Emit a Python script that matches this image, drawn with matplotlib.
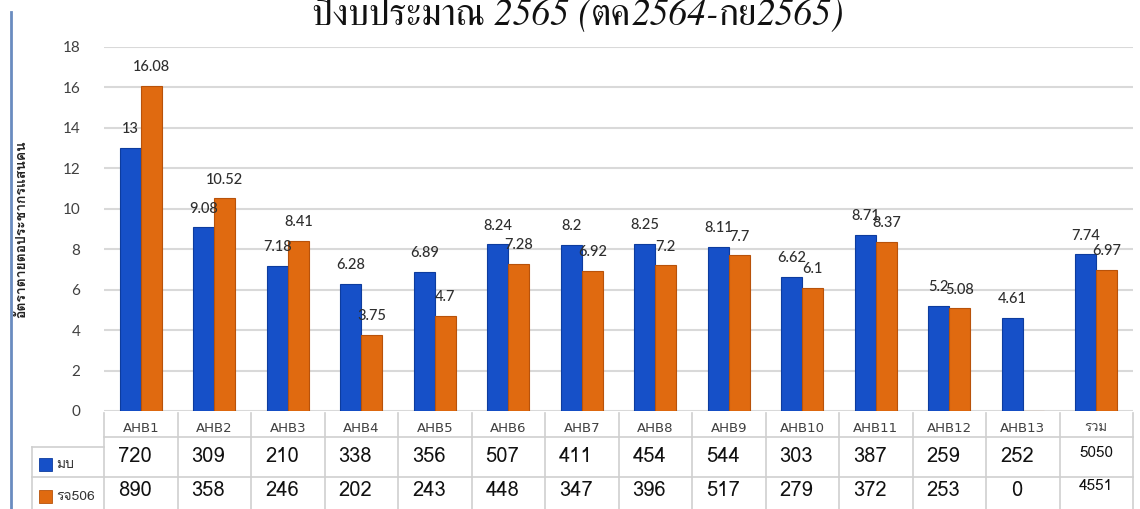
import matplotlib
matplotlib.use("Agg")
from matplotlib import pyplot as plt
from matplotlib.lines import Line2D
from matplotlib.patches import Rectangle

regions = ["AHB1", "AHB2", "AHB3", "AHB4", "AHB5", "AHB6", "AHB7",
           "AHB8", "AHB9", "AHB10", "AHB11", "AHB12", "AHB13", "รวม"]
# death rate per 100,000 population
rate_mb = [13, 9.08, 7.18, 6.28, 6.89, 8.24, 8.2, 8.25, 8.11, 6.62, 8.71, 5.2, 4.61, 7.74]
rate_rj = [16.08, 10.52, 8.41, 3.75, 4.7, 7.28, 6.92, 7.2, 7.7, 6.1, 8.37, 5.08, 0, 6.97]
# death counts
count_mb = [720, 309, 210, 338, 356, 507, 411, 454, 544, 303, 387, 259, 252, 5050]
count_rj = [890, 358, 246, 202, 243, 448, 347, 396, 517, 279, 372, 253, 0, 4551]
series_names = ["มบ", "รจ506"]
y_ticks = [0, 2, 4, 6, 8, 10, 12, 14, 16, 18]
# title pieces: Thai upright, numbers italic
title_parts = [("ปีงบประมาณ ", "normal"), ("2565 (", "italic"), ("ตค", "normal"),
               ("2564-", "italic"), ("กย", "normal"), ("2565)", "italic")]

BLUE = "#1650c8"
BLUE_EDGE = "#0d3c9e"
ORANGE = "#e06a10"
ORANGE_EDGE = "#b8520a"
GRID = "#d9d9d9"
TEXT = "#2e2e2e"
THAI = ["Loma", "DejaVu Sans"]

W, H = 1140, 509
fig = plt.figure(figsize=(W / 100, H / 100), dpi=100)

# bar chart area
ax = fig.add_axes([104 / W, 98 / H, 1029 / W, 364 / H])
x = list(range(len(regions)))
bw = 0.286
ax.bar([i - bw / 2 for i in x], rate_mb, bw, color=BLUE, edgecolor=BLUE_EDGE, linewidth=0.8, zorder=3)
ax.bar([i + bw / 2 for i in x], rate_rj, bw, color=ORANGE, edgecolor=ORANGE_EDGE, linewidth=0.8, zorder=3)

for i in x:
    for v, dx in ((rate_mb[i], -bw / 2), (rate_rj[i], bw / 2)):
        if v == 0:
            continue
        ax.annotate(f"{v:g}", (i + dx, v), xytext=(0, 13.5), textcoords="offset points",
                    ha="center", va="center", fontsize=10.5, family="Lato", fontweight="medium",
                    color=TEXT, zorder=5)

ax.set_xlim(-0.5, len(regions) - 0.5)
ax.set_ylim(0, 18)
ax.set_yticks(y_ticks)
ax.set_yticklabels([str(t) for t in y_ticks], family="Lato", fontsize=11, color="#404040")
ax.tick_params(axis="y", length=0, pad=17)
ax.set_xticks([])
ax.grid(axis="y", color=GRID, linewidth=1.5, zorder=0)
for s in ax.spines.values():
    s.set_visible(False)
ax.set_ylabel("อัตราตายต่อประชากรแสนคน", family=THAI, fontsize=10, fontweight="bold",
              color="#222222", labelpad=25)

# data table under the bars, y measured in pixels down from the zero line
tab = fig.add_axes([104 / W, 0, 1029 / W, 98 / H])
tab.set_xlim(-0.5, len(regions) - 0.5)
tab.set_ylim(98, 0)
tab.axis("off")

line_kw = dict(color="#cfcfcf", linewidth=1.2, clip_on=False)
for k in range(len(regions) + 1):
    tab.add_line(Line2D([k - 0.5, k - 0.5], [2, 98], **line_kw))
tab.add_line(Line2D([-0.5, 13.5], [26, 26], **line_kw))
tab.add_line(Line2D([-1.48, 13.5], [66, 66], **line_kw))
tab.add_line(Line2D([-1.48, -0.5], [36, 36], **line_kw))
tab.add_line(Line2D([-1.48, -1.48], [36, 98], **line_kw))

for i, name in enumerate(regions):
    fam = THAI if i == len(regions) - 1 else "DejaVu Sans"
    tab.text(i, 17, name, ha="center", va="center", fontsize=9.5, family=fam, color="#404040")

for i in x:
    last = i == len(regions) - 1
    size = 11 if last else 14.5
    dx = 0 if last else -0.08
    tab.text(i + dx, 42 if last else 45, str(count_mb[i]), ha="center", va="center",
             fontsize=size, family=THAI, color="#111111")
    tab.text(i + dx, 75 if last else 79, str(count_rj[i]), ha="center", va="center",
             fontsize=size, family=THAI, color="#111111")

# legend keys in the table's left column
for (y0, col, edge, name) in ((47, BLUE, BLUE_EDGE, series_names[0]),
                              (79, ORANGE, ORANGE_EDGE, series_names[1])):
    tab.add_patch(Rectangle((-1.385, y0), 0.175, 13, facecolor=col, edgecolor=edge,
                            linewidth=0.6, clip_on=False))
    tab.text(-1.15, y0 + 7, name, ha="left", va="center", fontsize=10, family=THAI, color="#333333")

# slide frame line on the left
fig.add_artist(Line2D([11 / W, 11 / W], [0, 1 - 12 / H], transform=fig.transFigure,
                      color="#6a8cc0", linewidth=2))

# title: lay the pieces side by side, then centre the whole line
renderer = fig.canvas.get_renderer()
pieces = []
cursor = 0.0
for txt, style in title_parts:
    t = fig.text(0, 1 - 25 / H, txt, ha="left", va="baseline", fontsize=27,
                 family="FreeSerif", style=style, color="#111111")
    w = t.get_window_extent(renderer).width
    pieces.append((t, cursor))
    cursor += w
start = 578 - cursor / 2
for t, off in pieces:
    t.set_x((start + off) / W)

fig.savefig("out.png", dpi=100)
